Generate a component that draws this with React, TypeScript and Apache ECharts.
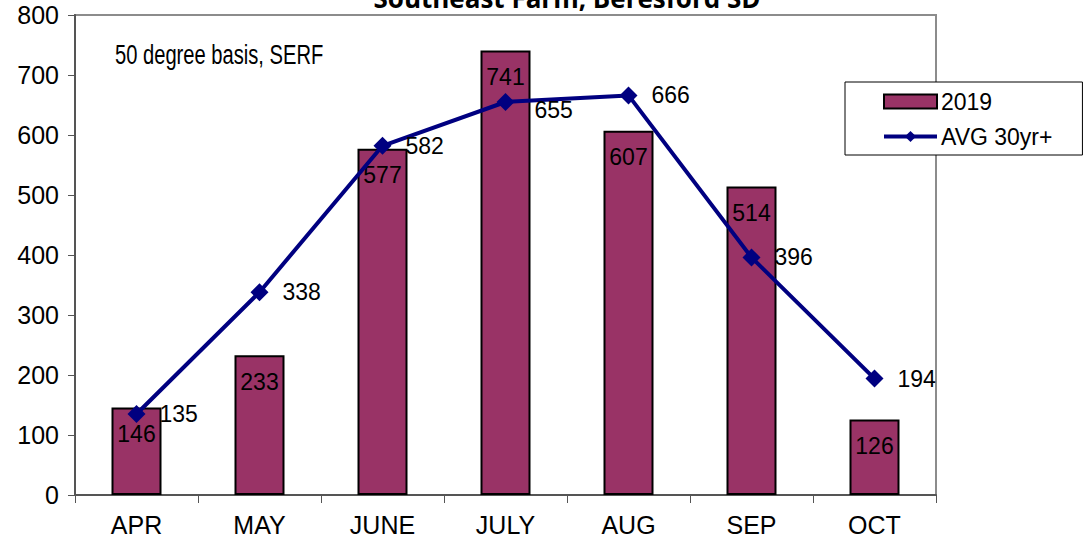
import React, { useEffect, useRef } from "react";
import * as echarts from "echarts";

const categories = ["APR", "MAY", "JUNE", "JULY", "AUG", "SEP", "OCT"];
const values2019 = [146, 233, 577, 741, 607, 514, 126];
const avg30yr = [135, 338, 582, 655, 666, 396, 194];
const yTicks = { min: 0, max: 800, interval: 100 };

export default function App() {
  const ref = useRef<HTMLDivElement>(null);
  useEffect(() => {
    const chart = echarts.init(ref.current!, null, { renderer: "svg" });
    const font = "'Liberation Sans', Arial, sans-serif";
    const lineData = avg30yr.map((v, i) =>
      categories[i] === "JULY"
        ? { value: v, label: { offset: [6, 8] } }
        : v
    );
    chart.setOption({
      animation: false,
      backgroundColor: "#ffffff",
      textStyle: { fontFamily: font },
      grid: {
        left: 75,
        top: 15,
        width: 861,
        height: 480,
        show: true,
        borderColor: "#8c8c8c",
        borderWidth: 2,
        backgroundColor: "transparent",
      },
      graphic: [
        {
          type: "text",
          x: 567,
          y: 11,
          style: {
            text: "Southeast Farm, Beresford SD",
            font: "bold 26px 'Open Sans', sans-serif",
            fill: "#000",
            align: "center",
            verticalAlign: "bottom",
          },
          z: 100,
        },
        {
          type: "text",
          x: 115,
          y: 54,
          style: {
            text: "50 degree basis, SERF",
            font: "28px 'Liberation Sans', Arial, sans-serif",
            fill: "#000",
            align: "left",
            verticalAlign: "middle",
          },
          scaleX: 0.72,
        },
      ],
      legend: {
        orient: "vertical",
        left: 845,
        top: 82,
        padding: [8, 30, 7, 37],
        itemGap: 12,
        itemWidth: 53,
        itemHeight: 14,
        borderColor: "#000",
        borderWidth: 1,
        backgroundColor: "#fff",
        textStyle: { fontSize: 23, color: "#000", fontFamily: font, padding: [0, 0, 0, -1] },
        data: [
          { name: "2019", icon: "rect", itemStyle: { borderColor: "#000", borderWidth: 2 } },
          { name: "AVG 30yr+", lineStyle: { width: 4 }, itemStyle: { color: "#000080" } },
        ],
      },
      xAxis: {
        type: "category",
        data: categories,
        boundaryGap: true,
        axisLine: { lineStyle: { color: "#555", width: 2 } },
        axisTick: { show: true, length: 8, lineStyle: { color: "#555" } },
        axisLabel: { fontSize: 25, color: "#000", margin: 17, fontFamily: font },
        splitLine: { show: false },
      },
      yAxis: {
        type: "value",
        min: yTicks.min,
        max: yTicks.max,
        interval: yTicks.interval,
        axisLine: { show: true, lineStyle: { color: "#555", width: 2 } },
        axisTick: { show: true, length: 7, lineStyle: { color: "#555" } },
        axisLabel: { fontSize: 25, color: "#000", margin: 16, fontFamily: font },
        splitLine: { show: false },
      },
      series: [
        {
          name: "2019",
          type: "bar",
          data: values2019,
          barWidth: 50,
          itemStyle: { color: "#993366", borderColor: "#000", borderWidth: 2 },
          label: {
            show: true,
            position: "insideTop",
            distance: 15,
            fontSize: 23,
            color: "#000",
            fontFamily: font,
          },
          z: 2,
        },
        {
          name: "AVG 30yr+",
          type: "line",
          data: lineData,
          symbol: "diamond",
          symbolSize: 18,
          lineStyle: { color: "#000080", width: 4 },
          itemStyle: { color: "#000080" },
          label: {
            show: true,
            position: "right",
            distance: 14,
            fontSize: 23,
            color: "#000",
            fontFamily: font,
          },
          z: 3,
        },
      ],
    });
    return () => chart.dispose();
  }, []);
  return (
    <div
      ref={ref}
      style={{ position: "fixed", left: 0, top: 0, width: 1086, height: 544 }}
    />
  );
}
